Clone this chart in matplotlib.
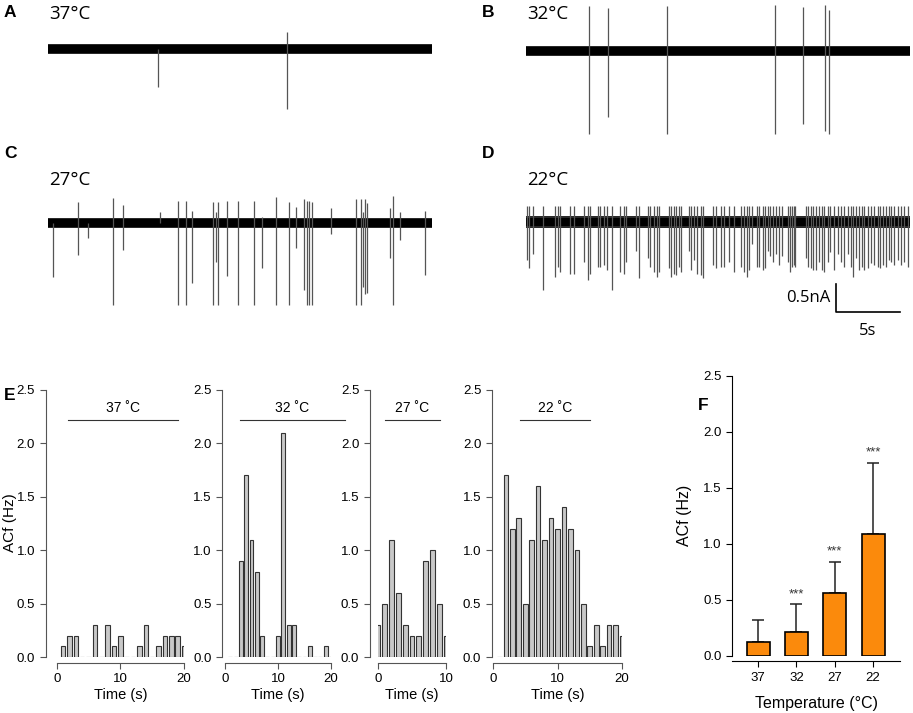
import matplotlib
matplotlib.use('Agg')
import matplotlib.pyplot as plt

W, H = 913, 713

# ---- traces: spike times (s), downward and upward deflections (nA) ----
a_t = [8.57, 18.65]
a_down = [0.67, 1.08]
a_up = [0.0, 0.31]

b_t = [4.95, 6.43, 10.99, 19.43, 21.67, 23.39, 23.70]
b_down = [1.48, 1.18, 1.48, 1.48, 1.31, 1.43, 1.48]
b_up = [0.80, 0.77, 0.80, 0.82, 0.79, 0.83, 0.74]

c_t = [0.36, 2.32, 3.10, 5.05, 5.83, 8.75, 10.18, 10.76, 11.22, 12.92, 13.13,
       13.31, 13.96, 14.82, 16.12, 16.69, 17.81, 18.85, 19.38, 20.03, 20.21,
       20.39, 20.60, 22.11, 24.06, 24.43, 24.64, 24.77, 24.90, 26.72, 26.98,
       27.50, 29.45]
c_down = [0.96, 0.58, 0.26, 1.47, 0.48, 0.0, 1.47, 1.47, 1.08, 1.47, 0.70,
          1.47, 0.95, 1.47, 1.47, 0.80, 1.47, 1.47, 0.44, 1.20, 1.47,
          1.47, 1.47, 0.20, 1.47, 1.47, 1.14, 1.26, 1.25, 0.62, 1.47,
          0.31, 0.92]
c_up = [0.0, 0.38, 0.0, 0.45, 0.32, 0.20, 0.39, 0.39, 0.21, 0.38, 0.20,
        0.38, 0.40, 0.40, 0.40, 0.10, 0.46, 0.38, 0.29, 0.42, 0.40,
        0.40, 0.38, 0.27, 0.42, 0.43, 0.20, 0.42, 0.35, 0.26, 0.48,
        0.20, 0.21]

d_t = [0.08, 0.26, 0.52, 1.33, 2.24, 2.50, 2.68, 3.41, 3.72, 4.56, 4.82, 5.03,
       5.60, 5.81, 6.07, 6.33, 6.72, 7.37, 7.63, 7.84, 8.62, 8.80, 9.51, 9.71,
       9.97, 10.23, 10.36, 11.15, 11.33, 11.54, 11.72, 11.93, 12.11, 12.71,
       12.92, 13.10, 13.36, 13.67, 13.83, 14.61, 14.84,
       15.23, 15.49, 15.89, 16.28, 16.80, 17.06, 17.27, 17.45, 17.66, 18.02,
       18.23, 18.49, 18.67, 18.93, 19.09, 19.32, 19.53, 19.79, 19.97, 20.44,
       20.63, 20.78, 20.91, 21.04, 21.88, 22.01, 22.27, 22.40, 22.66, 22.92,
       23.13, 23.31, 23.57, 23.78, 24.09, 24.35, 24.61, 24.87, 25.13, 25.39,
       25.57, 25.78, 25.99, 26.22, 26.43, 26.69, 26.95, 27.21, 27.47, 27.68,
       27.86, 28.13, 28.33, 28.52, 28.78, 29.04, 29.30, 29.56, 29.82]
d_down = [0.68, 0.83, 0.57, 1.22, 0.98, 0.80, 0.89, 0.92, 0.92, 0.71, 1.04, 0.92,
          0.80, 0.80, 0.77, 0.86, 1.22, 0.89, 0.92, 0.71, 0.51, 1.00, 0.65, 0.80,
          0.89, 0.98, 0.89, 0.83, 0.98, 0.92, 0.95, 0.80, 0.89, 0.51,
          0.86, 0.68, 0.92, 0.95, 1.00, 0.77, 0.83,
          0.80, 0.80, 0.71, 0.89, 0.80, 0.89, 0.98, 0.86, 0.39, 0.80,
          0.80, 0.86, 0.83, 0.51, 0.60, 0.71, 0.57, 0.77, 0.60, 0.71,
          0.89, 0.80, 0.77, 0.80, 0.65, 0.80, 0.83, 0.86, 0.86, 0.71,
          0.86, 0.89, 0.71, 0.54, 0.86, 0.57, 0.71, 0.80, 0.57, 0.80,
          0.98, 0.65, 0.86, 0.80, 0.86, 0.83, 0.74, 0.77, 0.80, 0.83,
          0.77, 0.80, 0.68, 0.71, 0.77, 0.68, 0.77, 0.71, 0.80]
d_up = 0.28

# ---- E: ACf histograms (1 s bins) ----
bins20 = list(range(1, 21))
bins10 = list(range(0, 11))
acf37 = [0.1, 0.2, 0.2, 0, 0, 0.3, 0, 0.3, 0.1, 0.2, 0, 0, 0.1, 0.3, 0, 0.1, 0.2, 0.2, 0.2, 0.1]
acf32 = [0, 0, 0.9, 1.7, 1.1, 0.8, 0.2, 0, 0, 0.2, 2.1, 0.3, 0.3, 0, 0, 0.1, 0, 0, 0.1, 0]
acf27 = [0.3, 0.5, 1.1, 0.6, 0.3, 0.2, 0.2, 0.9, 1.0, 0.5, 0.2]
acf22 = [0, 1.7, 1.2, 1.3, 0.5, 1.1, 1.6, 1.1, 1.3, 1.2, 1.4, 1.2, 1.0, 0.5, 0.1, 0.3, 0.1, 0.3, 0.3, 0.2]

# ---- F: mean ACf ----
temps = ['37', '32', '27', '22']
acf_mean = [0.12, 0.21, 0.56, 1.09]
acf_sd = [0.20, 0.25, 0.28, 0.63]
stars = ['', '***', '***', '***']

plt.rcParams['font.family'] = ['Liberation Sans', 'DejaVu Sans']

fig = plt.figure(figsize=(W / 100, H / 100), dpi=100)


def box(x0, y0, w, h):
    # pixel box measured from the top-left corner
    return [x0 / W, 1 - (y0 + h) / H, w / W, h / H]


def trace(x0, yb, t, down, up, band):
    ax = fig.add_axes(box(x0, yb - 55, 384, 150))
    ax.set_xlim(0, 30)
    ax.set_ylim(-95 / 56, 55 / 56)
    ax.axis('off')
    ax.fill_between([0, 30], -band * 1.35, band * 1.35, color='#2a2a2a', lw=0)
    ax.fill_between([0, 30], -band, band, color='black', lw=0)
    ax.vlines(t, [-d for d in down], up, color='#555555', lw=0.9)
    return ax


trace(48, 49, a_t, a_down, a_up, 0.065)
trace(526, 51, b_t, b_down, b_up, 0.065)
trace(48, 223, c_t, c_down, c_up, 0.065)
trace(526, 222, d_t, d_down, [d_up] * len(d_t), 0.08)

# scale bar
sb = fig.add_axes(box(526, 222 - 55, 384, 150))
sb.set_xlim(0, 30)
sb.set_ylim(-95 / 56, 55 / 56)
sb.axis('off')
sb.plot([24.2, 24.2, 29.2], [-1.11, -1.61, -1.61], color='black', lw=1.2, clip_on=False)
sb.text(23.8, -1.36, '0.5nA', ha='right', va='center', fontsize=12, family='Open Sans')
sb.text(26.7, -1.80, '5s', ha='center', va='top', fontsize=12, family='Open Sans')

for x, y, s in [(4, 5, 'A'), (482, 5, 'B'), (4, 146, 'C'), (482, 146, 'D'), (4, 388, 'E'), (698, 398, 'F')]:
    fig.text(x / W, 1 - y / H, s, fontsize=12.5, fontweight='bold', va='top')
for x, y, s in [(49, 5, '37°C'), (527, 5, '32°C'), (49, 171, '27°C'), (527, 171, '22°C')]:
    fig.text(x / W, 1 - y / H, s, fontsize=13.5, family='Open Sans', va='top')

GR = '#555555'


def hist(x0, w, xmax, bins, vals, off, ticks, title, t0, t1):
    ax = fig.add_axes(box(x0, 390, w, 267))
    ax.bar(bins, vals, width=0.72, color='#c8c8c8', edgecolor='#333333', lw=0.8)
    ax.set_xlim(0, xmax)
    ax.set_ylim(0, 2.5)
    for s in ['top', 'right']:
        ax.spines[s].set_visible(False)
    ax.spines['left'].set_position(('outward', off))
    ax.spines['bottom'].set_position(('outward', 4))
    for s in ['left', 'bottom']:
        ax.spines[s].set_color(GR)
    ax.set_yticks([0, 0.5, 1.0, 1.5, 2.0, 2.5])
    ax.set_yticklabels(['0.0', '0.5', '1.0', '1.5', '2.0', '2.5'])
    ax.set_xticks(ticks)
    ax.tick_params(colors=GR, labelcolor='black', labelsize=9.5, length=4)
    ax.set_xlabel('Time (s)', fontsize=10.5, labelpad=2)
    ax.plot([t0, t1], [2.22, 2.22], color='#333333', lw=0.8, clip_on=False)
    ax.text((t0 + t1) / 2, 2.27, title, ha='center', va='bottom', fontsize=10)
    return ax


hist(56.7, 127.3, 20, bins20, acf37, 8, [0, 10, 20], '37 ˚C', 1.7, 19.0)
hist(225, 106, 20, bins20, acf32, 2, [0, 10, 20], '32 ˚C', 2.8, 22.6)
hist(378, 68, 10, bins10, acf27, 6, [0, 10], '27 ˚C', 1.0, 9.1)
hist(493, 129, 20, bins20, acf22, 1, [0, 10, 20], '22 ˚C', 4.2, 15.0)
fig.text(10 / W, 1 - 523 / H, 'ACf (Hz)', rotation=90, ha='center', va='center', fontsize=11)

# F
axf = fig.add_axes(box(732, 375.7, 168, 280))
xs = list(range(len(temps)))
axf.bar(xs, acf_mean, width=0.6, color='#fb8a0c', edgecolor='black', lw=1.2, zorder=2)
axf.errorbar(xs, acf_mean, yerr=[[0] * len(xs), acf_sd], fmt='none', ecolor='#222222',
             elinewidth=1.1, capsize=4.5, capthick=1.1, zorder=1)
for i in xs:
    axf.annotate(stars[i], (i, acf_mean[i] + acf_sd[i]), xytext=(0, 3), textcoords='offset points',
                 ha='center', va='bottom', fontsize=9.5, color='#333333')
axf.set_xlim(-0.68, 3.7)
axf.set_ylim(0, 2.5)
for s in ['top', 'right']:
    axf.spines[s].set_visible(False)
axf.spines['bottom'].set_position(('outward', 4))
axf.set_xticks(xs)
axf.set_xticklabels(temps)
axf.set_yticks([0, 0.5, 1.0, 1.5, 2.0, 2.5])
axf.set_yticklabels(['0.0', '0.5', '1.0', '1.5', '2.0', '2.5'])
axf.tick_params(labelsize=9.5, length=4)
axf.set_xlabel('Temperature (°C)', fontsize=11.5, labelpad=9)
axf.set_ylabel('ACf (Hz)', fontsize=11.5, labelpad=8)

fig.savefig('out.png', dpi=100)
